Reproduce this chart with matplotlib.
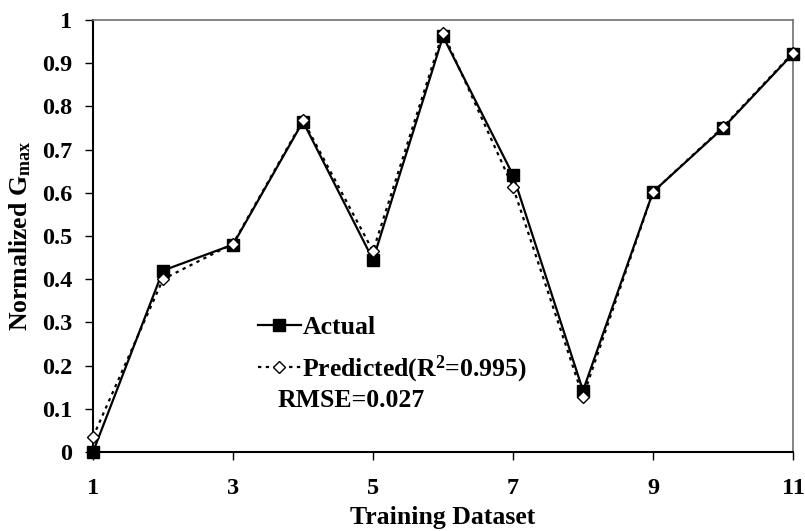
import matplotlib
matplotlib.use("Agg")
import matplotlib.pyplot as plt

plt.rcParams['font.family'] = ['Liberation Serif', 'DejaVu Serif']
plt.rcParams['font.weight'] = 'bold'
plt.rcParams['mathtext.default'] = 'regular'

datasets = [1, 2, 3, 4, 5, 6, 7, 8, 9, 10, 11]
actual = [0.0, 0.42, 0.48, 0.765, 0.445, 0.962, 0.641, 0.142, 0.602, 0.75, 0.922]
predicted = [0.035, 0.40, 0.482, 0.768, 0.465, 0.971, 0.613, 0.128, 0.602, 0.752, 0.924]
xticks = [1, 3, 5, 7, 9, 11]
yticks = [0, 0.1, 0.2, 0.3, 0.4, 0.5, 0.6, 0.7, 0.8, 0.9, 1]
ytick_labels = ['0', '0.1', '0.2', '0.3', '0.4', '0.5', '0.6', '0.7', '0.8', '0.9', '1']

fig = plt.figure(figsize=(8.05, 5.31), dpi=100)
ax = fig.add_axes([93/805, 1-452/531, 700/805, 432/531])

ax.plot(datasets, actual, color='black', lw=1.6, marker='s', ms=8.5,
        mfc='black', mec='black', label='Actual', clip_on=False, zorder=3)
ax.plot(datasets, predicted, color='black', lw=1.6, ls=(0, (1.5, 2)), marker='D', ms=6.5,
        mfc='white', mec='black', mew=1.0, label='Predicted(R$^2$=0.995)', clip_on=False, zorder=4)

ax.set_xlim(1, 11)
ax.set_ylim(0, 1)
ax.set_xticks(xticks)
ax.set_xticklabels([str(t) for t in xticks])
ax.set_yticks(yticks)
ax.set_yticklabels(ytick_labels)
ax.tick_params(axis='both', direction='out', length=6, width=1, labelsize=17.5, colors='black')
ax.tick_params(axis='y', pad=9)
ax.tick_params(axis='x', pad=13)

for s in ['left', 'bottom']:
    ax.spines[s].set_color('black')
    ax.spines[s].set_linewidth(1.5)
for s in ['top', 'right']:
    ax.spines[s].set_color('#707070')
    ax.spines[s].set_linewidth(1.2)

ax.set_xlabel('Training Dataset', fontsize=18.5, fontweight='bold', labelpad=5)
ax.set_ylabel('Normalized G$_{max}$', fontsize=18.5, fontweight='bold', labelpad=6)

leg = ax.legend(loc='upper left', bbox_to_anchor=(0.235, 0.314), frameon=False,
                fontsize=18.5, handlelength=1.7, handletextpad=0.05, labelspacing=0.55,
                borderpad=0, borderaxespad=0)

ax.text(0.264, 0.12, 'RMSE=0.027', transform=ax.transAxes, fontsize=18.5,
        fontweight='bold', va='center', ha='left')

fig.savefig('out.png', dpi=100)
